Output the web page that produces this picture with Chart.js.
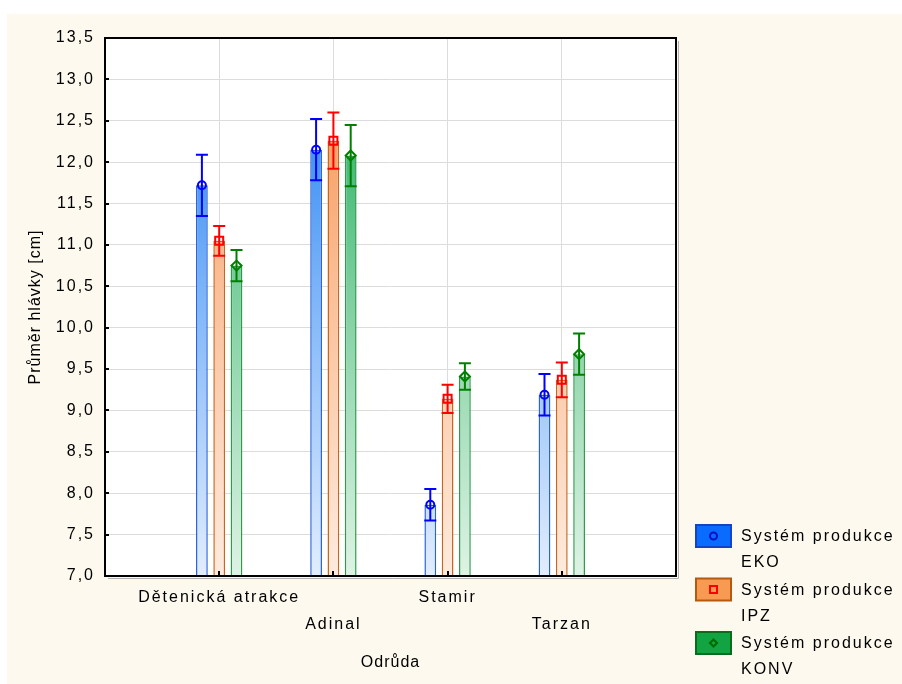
<!DOCTYPE html>
<html>
<head>
<meta charset="utf-8">
<script src="https://cdn.jsdelivr.net/npm/chart.js@4/dist/chart.umd.min.js"></script>
<style>
  html, body { margin: 0; padding: 0; background: #ffffff; }
  canvas { display: block; }
</style>
</head>
<body>
<canvas id="c" width="902" height="684"></canvas>
<script>
// Head diameter by variety and production system (mean ± error)
const categories = ['Dětenická atrakce', 'Adinal', 'Stamir', 'Tarzan'];

const ekoMean  = [11.72, 12.15, 7.86, 9.19];
const ekoErr   = [0.37, 0.37, 0.19, 0.25];
const ipzMean  = [11.05, 12.26, 9.14, 9.37];
const ipzErr   = [0.18, 0.34, 0.17, 0.21];
const konvMean = [10.75, 12.08, 9.41, 9.68];
const konvErr  = [0.19, 0.37, 0.16, 0.25];

const seriesNames = ['Systém produkce EKO', 'Systém produkce IPZ', 'Systém produkce KONV'];
const yTicks = [7.0, 7.5, 8.0, 8.5, 9.0, 9.5, 10.0, 10.5, 11.0, 11.5, 12.0, 12.5, 13.0, 13.5];

const FONT = "'Liberation Sans', Arial, sans-serif";
const SPACING = '2px';

// category axis has an empty slot at each end
const labels = [''].concat(categories, ['']);
const pad = arr => [null].concat(arr, [null]);

const styles = [
  { top: [20, 120, 242], mid: [120, 178, 247], bottom: [226, 237, 253], border: '#2763e0', err: '#0000ff', marker: 'circle',
    legendFill: '#0a6cff', legendBorder: '#1444c4', legendMark: '#0010c8' },
  { top: [246, 140, 66], mid: [250, 190, 150], bottom: [253, 235, 222], border: '#c8661e', err: '#ff0000', marker: 'square',
    legendFill: '#f89a52', legendBorder: '#b45a10', legendMark: '#ff0000' },
  { top: [14, 170, 84], mid: [120, 205, 155], bottom: [222, 243, 229], border: '#2e9a4a', err: '#008000', marker: 'diamond',
    legendFill: '#12a442', legendBorder: '#0c6c1e', legendMark: '#006a00' }
];
const means = [ekoMean, ipzMean, konvMean];
const errs = [ekoErr, ipzErr, konvErr];

function rgb(c) { return 'rgb(' + c.join(',') + ')'; }

function gradientFor(style) {
  return function (ctx) {
    const area = ctx.chart.chartArea;
    if (!area) return rgb(style.top);
    const g = ctx.chart.ctx.createLinearGradient(0, area.top, 0, area.bottom);
    g.addColorStop(0, rgb(style.top));
    g.addColorStop(0.45, rgb(style.mid));
    g.addColorStop(1, rgb(style.bottom));
    return g;
  };
}

const datasets = means.map((m, i) => ({
  label: seriesNames[i],
  data: pad(m),
  backgroundColor: gradientFor(styles[i]),
  borderColor: styles[i].border,
  borderWidth: 1.5,
  borderSkipped: 'bottom',
  categoryPercentage: 0.4545,
  barPercentage: 0.68
}));

function drawMarker(ctx, type, x, y, size) {
  ctx.beginPath();
  if (type === 'circle') {
    ctx.arc(x, y, size, 0, Math.PI * 2);
  } else if (type === 'square') {
    ctx.rect(x - size, y - size, size * 2, size * 2);
  } else {
    ctx.moveTo(x, y - size - 1);
    ctx.lineTo(x + size + 1, y);
    ctx.lineTo(x, y + size + 1);
    ctx.lineTo(x - size - 1, y);
    ctx.closePath();
  }
  ctx.stroke();
}

const spacingPlugin = {
  id: 'letterSpacing',
  beforeLayout(chart) { chart.ctx.letterSpacing = SPACING; },
  beforeDraw(chart) { chart.ctx.letterSpacing = SPACING; }
};

const framePlugin = {
  id: 'frame',
  beforeDraw(chart) {
    const ctx = chart.ctx;
    const a = chart.chartArea;
    ctx.save();
    ctx.fillStyle = '#ffffff';
    ctx.fillRect(0, 0, chart.width, chart.height);
    ctx.fillStyle = '#fdf9ee';
    ctx.fillRect(7, 14, chart.width - 7, chart.height - 14);
    ctx.fillStyle = '#ffffff';
    ctx.fillRect(a.left, a.top, a.right - a.left, a.bottom - a.top);
    ctx.restore();
  },
  afterDatasetsDraw(chart) {
    const ctx = chart.ctx;
    ctx.save();
    // error bars and mean markers
    chart.data.datasets.forEach((ds, di) => {
      const meta = chart.getDatasetMeta(di);
      const ys = chart.scales.y;
      const st = styles[di];
      ctx.strokeStyle = st.err;
      ctx.lineWidth = 2;
      means[di].forEach((v, ci) => {
        const bar = meta.data[ci + 1];
        if (!bar) return;
        const x = bar.x;
        const yHi = ys.getPixelForValue(v + errs[di][ci]);
        const yLo = ys.getPixelForValue(v - errs[di][ci]);
        const yM = ys.getPixelForValue(v);
        ctx.beginPath();
        ctx.moveTo(x, yHi); ctx.lineTo(x, yLo);
        ctx.moveTo(x - 6, yHi); ctx.lineTo(x + 6, yHi);
        ctx.moveTo(x - 6, yLo); ctx.lineTo(x + 6, yLo);
        ctx.stroke();
        drawMarker(ctx, st.marker, x, yM, 4);
      });
    });
    ctx.restore();
  },
  afterDraw(chart) {
    const ctx = chart.ctx;
    const a = chart.chartArea;
    const ys = chart.scales.y;
    const xs = chart.scales.x;
    ctx.save();
    // inner tick marks
    ctx.strokeStyle = '#000000';
    ctx.lineWidth = 2;
    ctx.beginPath();
    yTicks.forEach(v => {
      const y = Math.round(ys.getPixelForValue(v));
      ctx.moveTo(a.left, y); ctx.lineTo(a.left + 4, y);
    });
    categories.forEach((c, i) => {
      const x = Math.round(xs.getPixelForValue(i + 1));
      ctx.moveTo(x, a.bottom); ctx.lineTo(x, a.bottom - 5);
    });
    ctx.stroke();
    // frame with soft shadow
    ctx.strokeStyle = '#b0b0b0';
    ctx.lineWidth = 1;
    ctx.beginPath();
    ctx.moveTo(a.right + 2.5, a.top + 3); ctx.lineTo(a.right + 2.5, a.bottom + 2.5);
    ctx.lineTo(a.left + 3, a.bottom + 2.5);
    ctx.stroke();
    ctx.strokeStyle = '#000000';
    ctx.lineWidth = 2;
    ctx.strokeRect(a.left, a.top, a.right - a.left, a.bottom - a.top);

    // axis titles
    ctx.letterSpacing = '1px';
    ctx.fillStyle = '#000000';
    ctx.font = '16px ' + FONT;
    ctx.textAlign = 'center';
    ctx.textBaseline = 'middle';
    ctx.fillText('Odrůda', (a.left + a.right) / 2, 663);
    ctx.save();
    ctx.translate(36, (a.top + a.bottom) / 2);
    ctx.rotate(-Math.PI / 2);
    ctx.fillText('Průměr hlávky [cm]', 0, 0);
    ctx.restore();

    // legend
    ctx.letterSpacing = SPACING;
    ctx.textAlign = 'left';
    const boxX = 696, boxW = 35, boxH = 22;
    const boxTops = [525, 578.5, 632];
    styles.forEach((st, i) => {
      const top = boxTops[i];
      ctx.fillStyle = st.legendFill;
      ctx.fillRect(boxX, top, boxW, boxH);
      ctx.strokeStyle = st.legendBorder;
      ctx.lineWidth = 2;
      ctx.strokeRect(boxX, top, boxW, boxH);
      ctx.strokeStyle = st.legendMark;
      ctx.lineWidth = 2;
      drawMarker(ctx, st.marker, boxX + boxW / 2, top + boxH / 2, st.marker === 'diamond' ? 2.5 : 3.5);
      const words = seriesNames[i].split(' ');
      ctx.fillStyle = '#000000';
      ctx.fillText(words.slice(0, 2).join(' '), 741, top + 12);
      ctx.fillText(words[2], 741, top + 38);
    });
    ctx.restore();
  }
};

new Chart(document.getElementById('c'), {
  type: 'bar',
  data: { labels: labels, datasets: datasets },
  plugins: [spacingPlugin, framePlugin],
  options: {
    responsive: false,
    animation: false,
    devicePixelRatio: 1,
    layout: { padding: { left: 0, top: 38, right: 226, bottom: 0 } },
    plugins: { legend: { display: false }, tooltip: { enabled: false }, title: { display: false } },
    scales: {
      x: {
        type: 'category',
        offset: false,
        grid: { display: true, offset: false, color: '#dcdcdc', lineWidth: 1, drawTicks: false },
        border: { display: false },
        ticks: {
          autoSkip: false,
          maxRotation: 0,
          padding: 8,
          color: '#000000',
          font: { family: FONT, size: 16, lineHeight: 1.6875 },
          callback: function (val, i) {
            const name = labels[i];
            if (!name) return '';
            return (i % 2 === 1) ? [name, ''] : ['', name];
          }
        },
        afterFit(scale) { scale.height = 108; }
      },
      y: {
        min: 7,
        max: 13.5,
        grid: { color: '#dcdcdc', lineWidth: 1, drawTicks: false },
        border: { display: false },
        afterBuildTicks(scale) { scale.ticks = yTicks.map(v => ({ value: v })); },
        ticks: {
          padding: 10,
          color: '#000000',
          font: { family: FONT, size: 16 },
          callback: v => Number(v).toFixed(1).replace('.', ',')
        },
        afterFit(scale) { scale.width = 105; }
      }
    }
  }
});
</script>
</body>
</html>
